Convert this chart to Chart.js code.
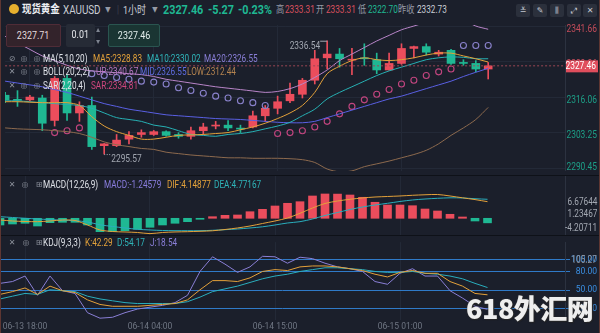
<!DOCTYPE html>
<html>
<head>
<meta charset="utf-8">
<title>现货黄金 XAUUSD 1小时</title>
<script src="https://cdn.jsdelivr.net/npm/chart.js@4.4.1/dist/chart.umd.min.js"></script>
<style>
  html, body { margin:0; padding:0; background:#1b1f2b; }
  #wrap { position:relative; width:600px; height:333px; overflow:hidden; background:#1b1f2b;
          font-family:Roboto,"Noto Sans CJK SC","Noto Sans",sans-serif; color:#d6d9e0; }
  #wrap:before, #wrap:after { content:""; position:absolute; top:0; bottom:0; width:1px; background:#5e3632; z-index:9; }
  #wrap:before { left:0; } #wrap:after { right:0; }
  .pane { position:absolute; left:0; width:600px; }
  .sep { position:absolute; left:0; width:600px; height:1px; background:#0e1118; }
  .t { position:absolute; white-space:nowrap; line-height:1; font-size:10px;
       transform:translateY(-50%) scaleX(0.82); transform-origin:left center; }
  .ic { position:absolute; line-height:1; transform:translate(-50%,-50%); font-family:"DejaVu Sans",sans-serif; font-size:8px; color:#8b909b; }
  .gr { color:#959aa6; }
  .box { position:absolute; top:24px; height:23px; border-radius:2px; box-sizing:border-box;
         font-size:10.5px; line-height:21px; text-align:center; }
  .box span { display:inline-block; transform:scaleX(0.85); }
  .tb { position:absolute; top:4px; width:14px; height:13px; border-radius:2px; background:#2b303c;
        color:#c3c7cf; font-family:"DejaVu Sans",sans-serif; font-size:8px; line-height:13px; text-align:center; }
  .ax { position:absolute; right:3px; font-size:10px; line-height:1; color:#a3a8b2;
        transform:translateY(-50%) scaleX(0.82); transform-origin:right center; }
  #wm { position:absolute; left:466px; top:294px; font-family:"Noto Sans CJK SC",sans-serif; font-weight:900;
        font-size:27px; line-height:28px; color:#eeeeee; letter-spacing:-0.5px;
        text-shadow:0 0 2px #333, 1px 1px 1px #222; z-index:8; }
</style>
</head>
<body>
<div id="wrap">
  <!-- panes -->
  <div class="pane" style="top:20px;height:156px"><canvas id="cMain" width="600" height="156"></canvas></div>
  <div class="pane" style="top:176px;height:59px"><canvas id="cMacd" width="600" height="59"></canvas></div>
  <div class="pane" style="top:235px;height:98px"><canvas id="cKdj" width="600" height="98"></canvas></div>
  <div class="sep" style="top:175px"></div>
  <div class="sep" style="top:235px"></div>

  <!-- header -->
  <div style="position:absolute;left:9px;top:4px;width:10px;height:10px;border-radius:50%;background:#e6b02e"></div>
  <span class="t" style="left:22px;top:10px;font-size:11.5px;font-weight:bold;color:#eceef2">现货黄金</span>
  <span class="t" style="left:63px;top:10px;font-size:12px;color:#c9cdd5">XAUUSD</span>
  <span class="t gr" style="left:105px;top:10px;font-size:7px">▼</span>
  <span class="t" style="left:117px;top:10px;color:#3d4250">|</span>
  <span class="t" style="left:123px;top:10px;font-size:11px;color:#c9cdd5">1小时</span>
  <span class="t gr" style="left:152px;top:10px;font-size:7px">▼</span>
  <span class="t" style="left:163px;top:10px;font-size:12px;font-weight:bold;color:#1fb893;transform:translateY(-50%) scaleX(0.9)">2327.46</span>
  <span class="t" style="left:208px;top:10px;font-size:12px;font-weight:bold;color:#1fb893;transform:translateY(-50%) scaleX(0.9)">-5.27</span>
  <span class="t" style="left:238px;top:10px;font-size:12px;font-weight:bold;color:#1fb893;transform:translateY(-50%) scaleX(0.9)">-0.23%</span>
  <span class="t gr" style="left:276px;top:10px">高</span>
  <span class="t" style="left:285px;top:10px;color:#d9505e">2333.31</span>
  <span class="t gr" style="left:316px;top:10px">开</span>
  <span class="t" style="left:326px;top:10px;color:#d9505e">2333.31</span>
  <span class="t gr" style="left:358px;top:10px">低</span>
  <span class="t" style="left:368px;top:10px;color:#1fb893">2322.70</span>
  <span class="t gr" style="left:398px;top:10px">昨收</span>
  <span class="t" style="left:417px;top:10px;color:#c9cdd5">2332.73</span>
  <div class="tb" style="left:516px">≚</div>
  <div class="tb" style="left:533px">✎</div>
  <div class="tb" style="left:550px">⫼</div>
  <div class="tb" style="left:567px">⤢</div>
  <div class="tb" style="left:583px">✕</div>

  <!-- order boxes -->
  <div class="box" style="left:6px;width:55px;background:#33232b;border:1px solid #4f2c37;color:#e2dadd"><span>2327.71</span></div>
  <div class="box" style="left:66px;width:29px;background:#262b36;color:#e6e8ec"><span>0.01</span></div>
  <span class="t" style="left:96px;top:30px;font-size:5px;color:#7e8490">▲</span>
  <span class="t" style="left:96px;top:41px;font-size:5px;color:#7e8490">▼</span>
  <div class="box" style="left:108px;width:52px;background:#1a3533;border:1px solid #2a5550;color:#e0ecea"><span>2327.46</span></div>

  <!-- main legend -->
  <span class="ic" style="left:12px;top:58.5px">⊘</span><span class="ic" style="left:24px;top:58.5px">◎</span><span class="ic" style="left:37px;top:58.5px">◎</span>
  <span class="t" style="left:43px;top:58.5px;color:#dfe2e8">MA(5,10,20)</span>
  <span class="t" style="left:93px;top:58.5px;color:#e3a13a">MA5:2328.83</span>
  <span class="t" style="left:147px;top:58.5px;color:#2fb4b9">MA10:2330.02</span>
  <span class="t" style="left:204px;top:58.5px;color:#8a7fd8">MA20:2326.55</span>

  <span class="ic" style="left:12px;top:72px">✕</span><span class="ic" style="left:24px;top:72px">◎</span><span class="ic" style="left:37px;top:72px">◎</span>
  <span class="t" style="left:43px;top:72px;color:#dfe2e8">BOLL(20,2,2)</span>
  <span class="t" style="left:96px;top:72px;color:#b878c4">UP:2340.67</span>
  <span class="t" style="left:140px;top:72px;color:#5f6ce0">MID:2326.55</span>
  <span class="t" style="left:187px;top:72px;color:#b4834f">LOW:2312.44</span>

  <span class="ic" style="left:12px;top:85.5px">✕</span><span class="ic" style="left:24px;top:85.5px">◎</span><span class="ic" style="left:37px;top:85.5px">◎</span>
  <span class="t" style="left:43px;top:85.5px;color:#dfe2e8">SAR(2,20,4)</span>
  <span class="t" style="left:91px;top:85.5px;color:#d0467e">SAR:2334.81</span>

  <!-- MACD legend -->
  <span class="ic" style="left:12px;top:185px">✕</span><span class="ic" style="left:25px;top:185px">◎</span><span class="ic" style="left:39px;top:185px">⊞</span>
  <span class="t" style="left:43px;top:185px;color:#dfe2e8">MACD(12,26,9)</span>
  <span class="t" style="left:104px;top:185px;color:#8a7ee0">MACD:-1.24579</span>
  <span class="t" style="left:167px;top:185px;color:#e3a13a">DIF:4.14877</span>
  <span class="t" style="left:214px;top:185px;color:#2fb4b9">DEA:4.77167</span>
  <span class="ax" style="top:201.7px">6.67644</span>
  <span class="ax" style="top:214.3px">1.23467</span>
  <span class="ax" style="top:228.3px">-4.20711</span>

  <!-- KDJ legend -->
  <span class="ic" style="left:12px;top:243px">✕</span><span class="ic" style="left:26px;top:243px">◎</span><span class="ic" style="left:39px;top:243px">⊞</span>
  <span class="t" style="left:43px;top:243px;color:#dfe2e8">KDJ(9,3,3)</span>
  <span class="t" style="left:85px;top:243px;color:#e3a13a">K:42.29</span>
  <span class="t" style="left:117px;top:243px;color:#2fb4b9">D:54.17</span>
  <span class="t" style="left:150px;top:243px;color:#8a7fd8">J:18.54</span>
  <span class="ax" style="top:259.5px;color:#8e939d">105.27</span>

  <div id="wm">618外汇网</div>
</div>

<script>
// ---- data (1h candles, 06-13 16:00 -> 06-15 08:00) ----
const timeIdx = [2, 12, 22, 32];
const timeLabels = ["06-13 18:00", "06-14 04:00", "06-14 15:00", "06-15 01:00"];

const opens  = [2316.84,2315.3,2315.16,2315.83,2307.72,2322.92,2310.43,2313.13,2298.6,2298.6,2300.96,2302.65,2302.65,2303.67,2302.65,2301.98,2304.01,2305.7,2306.03,2304.8,2305.36,2309.41,2312.11,2314.82,2317.18,2322.25,2330.36,2331.71,2329.5,2330.2,2329.68,2325.97,2328.33,2333.74,2334.41,2331.71,2333.06,2328.5,2328.33,2326.3];
const highs  = [2317.86,2318.5,2316.84,2316.84,2323.6,2324.28,2314.48,2316.17,2299.4,2302.65,2303.67,2304.34,2304.1,2304.0,2303.3,2305.36,2306.71,2307.38,2307.72,2306.03,2311.1,2313.13,2316.51,2321.24,2322.92,2333.06,2336.54,2333.74,2333.74,2335.43,2332.05,2332.05,2335.43,2334.6,2335.43,2333.06,2333.4,2329.68,2329.34,2328.67];
const lows   = [2314.14,2312.8,2314.82,2304.01,2305.7,2307.72,2307.38,2297.25,2295.57,2298.26,2299.28,2301.64,2302.3,2302.0,2301.3,2300.96,2302.65,2304.68,2304.01,2303.33,2305.0,2307.38,2310.09,2314.14,2315.83,2320.9,2326.3,2326.98,2324.28,2327.66,2324.61,2325.9,2327.99,2330.36,2331.37,2331.0,2327.99,2327.66,2325.29,2322.7];
const closes = [2315.16,2315.0,2316.17,2306.71,2322.92,2310.43,2313.13,2298.26,2299.28,2300.62,2302.32,2303.33,2303.67,2302.32,2301.98,2304.01,2305.36,2306.03,2305.02,2304.6,2309.41,2312.11,2314.48,2317.18,2322.25,2330.02,2331.71,2330.02,2329.68,2330.0,2325.97,2328.33,2333.74,2334.41,2332.38,2332.38,2328.33,2328.33,2326.3,2327.46];
const lastPrice = 2327.46;

const ma5  = [2314.49,2314.49,2314.32,2314.15,2314.15,2314.15,2313.14,2309.08,2305.71,2303.68,2302.33,2300.98,2300.98,2301.65,2302.33,2302.5,2302.67,2303.0,2303.34,2304.36,2305.37,2306.72,2308.41,2310.43,2313.14,2317.86,2324.62,2327.32,2329.35,2330.36,2329.68,2329.35,2329.68,2330.36,2331.37,2332.05,2332.05,2331.04,2330.02,2328.83];
const ma10 = [2314.82,2314.82,2314.48,2314.15,2313.81,2313.47,2313.14,2312.11,2310.43,2308.75,2308.07,2307.39,2306.04,2305.37,2304.02,2302.67,2302.33,2301.99,2302.67,2303.0,2303.68,2304.69,2305.7,2307.06,2309.42,2311.79,2315.5,2317.86,2319.89,2321.92,2323.94,2325.63,2326.98,2328.33,2329.68,2330.36,2330.7,2330.53,2330.02,2330.02];
const ma20 = [2321.92,2321.24,2320.57,2319.89,2318.88,2317.86,2316.51,2315.16,2313.81,2312.8,2311.79,2311.11,2310.43,2309.76,2309.42,2309.08,2308.75,2308.41,2308.24,2308.07,2307.73,2307.39,2307.06,2306.89,2306.89,2307.39,2308.75,2310.1,2311.45,2312.8,2314.15,2315.5,2316.51,2317.86,2319.22,2320.57,2321.92,2323.61,2325.13,2326.55];
const bollUp  = [2338.13,2335.76,2333.4,2331.04,2329.35,2327.66,2326.31,2325.63,2325.29,2324.96,2324.62,2324.28,2323.61,2322.59,2321.92,2321.24,2320.57,2319.89,2319.38,2318.88,2318.37,2317.86,2318.2,2319.22,2320.9,2323.27,2325.97,2329.35,2331.71,2334.07,2336.44,2338.47,2340.49,2341.84,2343.19,2344.21,2344.54,2343.87,2341.84,2340.67];
const bollLow = [2305.03,2304.69,2304.52,2304.36,2304.02,2303.68,2303.0,2301.65,2299.97,2298.95,2298.28,2297.6,2297.26,2296.25,2295.74,2295.24,2294.9,2294.56,2294.22,2294.22,2294.05,2294.05,2294.05,2293.89,2293.55,2292.54,2290.17,2289.16,2289.5,2291.02,2292.03,2293.04,2294.22,2295.41,2296.93,2299.29,2302.33,2305.03,2308.07,2312.44];
const n = null;
const sarBelow = [n,n,n,n,2303.34,2304.02,2305.03,n,n,n,n,n,n,n,n,n,n,n,n,n,n,n,2303.0,2303.34,2304.02,2305.37,2307.39,2310.1,2312.8,2315.16,2317.19,2318.88,2320.9,2322.25,2323.94,2325.29,2326.31,n,n,n];
const sarAbove = [n,n,n,n,n,n,n,2324.62,2323.94,2323.27,2322.59,2321.92,2321.58,2320.9,2319.55,2318.54,2317.53,2316.51,2315.84,2314.82,2314.15,2313.14,n,n,n,n,n,n,n,n,n,n,n,n,n,n,n,2334.8,2334.8,2334.81];
const priceTicks = [2341.66, 2328.86, 2316.06, 2303.25, 2290.45];

const macdHist = [-1.84,-1.57,-1.37,-2.12,-1.21,-1.1,-1.1,-1.84,-3.68,-3.68,-3.41,-3.02,-2.47,-1.84,-1.37,-0.93,-0.27,0.44,0.82,0.91,1.81,2.47,3.38,4.12,4.56,6.13,6.68,6.65,6.4,5.77,4.4,3.65,3.65,3.46,2.55,2.01,1.1,0.36,-0.74,-1.25];
const dif = [-0.47,-0.74,-0.88,-0.93,-0.74,-0.47,-0.6,-1.84,-3.21,-3.63,-3.76,-3.9,-4.21,-3.9,-3.76,-3.68,-3.57,-3.43,-3.08,-2.66,-2.12,-1.43,-0.74,0.08,1.37,2.83,4.07,4.75,5.22,5.58,5.85,5.99,6.13,6.32,6.46,6.54,6.13,5.63,5.14,4.56];
const dea = [0.44,0.22,0,-0.19,-0.36,-0.52,-0.66,-1.02,-1.79,-2.25,-2.66,-3.02,-3.21,-3.35,-3.41,-3.41,-3.41,-3.3,-3.13,-2.94,-2.66,-2.34,-1.84,-1.29,-0.93,-0.19,0.77,1.59,2.42,3.1,3.65,4.12,4.62,5.03,5.3,5.49,5.63,5.58,5.38,5.22];

const kLine = [43,47.5,53.5,43,56.5,49,46,34,26.5,23.5,23.5,23.5,25,26.5,28,34,50.5,65.5,65.5,64,70,80.5,83.5,82,88,89.5,89.5,88,85,82,76,71.5,79,82,77.5,77.5,64,56.5,44.5,42.29];
const dLine = [35.5,40,44.5,43,50.5,49,47.5,40,35.5,32.5,29.5,28,28,28,28,31,38.5,47.5,52,56.5,62.5,68.5,73,76,80.5,83.5,86.5,86.5,85,83.5,80.5,79,79,80.5,77.5,76,73,68.5,61,54.17];
const jLine = [61,64,73,41.5,73,49,44.5,13,4,5.5,13,19,22,25,29.5,41.5,80.5,104.5,92.5,79,88,105.27,104.5,94,103.8,101.5,94,88,85,80.5,64,59.5,77.5,85,73,73,49,37,23.5,18.54];
const kdjTicks = [100, 80, 50, 20];

// ---- style ----
const RED = "#eb4d5c", GREEN = "#1fb893";
const GRID = "#232937", AXISLINE = "#2c3240";
Chart.defaults.font.family = 'Roboto, "Noto Sans", sans-serif';

const pts = arr => arr.map((v, i) => ({ x: i, y: v }));
const candleCol = closes.map((c, i) => c >= opens[i] ? RED : GREEN);

function xAxis(withLabels) {
  return {
    type: "linear", min: 0, max: 45.2, offset: false, bounds: "ticks",
    afterBuildTicks: s => { s.ticks = timeIdx.map(v => ({ value: v })); },
    ticks: withLabels
      ? { display: true, color: "#6f7683", font: { size: 8.5 }, padding: 2, maxRotation: 0, autoSkip: false,
          callback: v => timeLabels[timeIdx.indexOf(v)] }
      : { display: false },
    grid: { color: GRID, drawTicks: false, offset: false },
    border: { display: false },
    afterFit: s => { s.height = withLabels ? 13 : 0; }
  };
}
const baseOpts = {
  responsive: false, animation: false, events: [],
  layout: { padding: { right: 3 } },
  plugins: { legend: { display: false }, tooltip: { enabled: false } }
};

// condensed text helper for canvas labels
function squeezeText(ctx, txt, x, y, sx) {
  ctx.save(); ctx.translate(x, y); ctx.scale(sx, 1); ctx.fillText(txt, 0, 0); ctx.restore();
}

// right-axis labels + last price tag + high/low marks on the price pane
const pricePane = {
  id: "pricePane",
  afterDraw(chart) {
    const { ctx, scales: { x, y } } = chart;
    ctx.save();
    ctx.font = "10px Roboto";
    ctx.textAlign = "right"; ctx.textBaseline = "middle";
    priceTicks.forEach(v => {
      let py = y.getPixelForValue(v) + 3;
      py = Math.min(Math.max(py, 9.5), 147.5);
      ctx.fillStyle = v > lastPrice ? "#c44c5a" : "#1d9f87";
      squeezeText(ctx, v.toFixed(2), 597, py, 0.84);
    });
    const ly = y.getPixelForValue(lastPrice);
    ctx.fillStyle = "#e04e5d";
    ctx.fillRect(566, ly - 5.5, 32, 12);
    ctx.fillStyle = "#ffffff";
    squeezeText(ctx, lastPrice.toFixed(2), 596, ly + 0.5, 0.84);

    const hi = highs.indexOf(Math.max(...highs));
    const lo = lows.indexOf(Math.min(...lows));
    ctx.fillStyle = "#a1a6b0"; ctx.strokeStyle = "#a1a6b0"; ctx.lineWidth = 1;
    ctx.textBaseline = "top";
    const hx = x.getPixelForValue(hi), hy = y.getPixelForValue(highs[hi]);
    ctx.beginPath(); ctx.moveTo(hx - 7, hy + 0.5); ctx.lineTo(hx, hy + 0.5); ctx.stroke();
    squeezeText(ctx, highs[hi].toFixed(2), hx - 7, hy + 0.5, 0.84);
    const lx = x.getPixelForValue(lo), lyy = y.getPixelForValue(lows[lo]);
    ctx.setLineDash([1, 1.5]);
    ctx.beginPath(); ctx.moveTo(lx, lyy + 0.5); ctx.lineTo(lx + 6, lyy + 0.5); ctx.stroke();
    ctx.setLineDash([]);
    ctx.textAlign = "left";
    squeezeText(ctx, lows[lo].toFixed(2), lx + 7, lyy, 0.84);
    ctx.restore();
  }
};

const line = (data, color, extra) => Object.assign({
  type: "line", data: pts(data), borderColor: color, borderWidth: 1,
  pointRadius: 0, tension: 0.3, order: 1
}, extra || {});

new Chart(document.getElementById("cMain"), {
  type: "bar",
  data: {
    datasets: [
      { type: "bar", data: lows.map((l, i) => ({ x: i, y: [l, highs[i]] })),
        backgroundColor: candleCol, barThickness: 1, grouped: false, minBarLength: 1, order: 5 },
      { type: "bar", data: opens.map((o, i) => ({ x: i, y: [o, closes[i]] })),
        backgroundColor: candleCol, barThickness: 8, grouped: false, minBarLength: 1, order: 4 },
      line(ma5, "#e3a13a"),
      line(ma10, "#27b1b4"),
      line(ma20, "#5a60e4"),
      line(bollUp, "#b985c9"),
      line(bollLow, "#8d6a4e"),
      { type: "line", data: pts(sarBelow), showLine: false, pointRadius: 3, pointBorderWidth: 1.1,
        pointBorderColor: "#c2457f", pointBackgroundColor: "rgba(0,0,0,0)", order: 2 },
      { type: "line", data: pts(sarAbove), showLine: false, pointRadius: 3, pointBorderWidth: 1.1,
        pointBorderColor: "#8a82cc", pointBackgroundColor: "rgba(0,0,0,0)", order: 2 },
      { type: "line", data: [{ x: 0, y: lastPrice }, { x: 45.2, y: lastPrice }], borderColor: "#9c4654",
        borderWidth: 1, borderDash: [2, 2], pointRadius: 0, order: 0 }
    ]
  },
  options: Object.assign({}, baseOpts, {
    scales: {
      x: xAxis(false),
      y: { position: "right", min: 2289.49, max: 2342.18,
           afterBuildTicks: s => { s.ticks = priceTicks.map(v => ({ value: v })); },
           ticks: { display: false }, grid: { color: GRID, drawTicks: false },
           border: { color: AXISLINE }, afterFit: s => { s.width = 32; } }
    }
  }),
  plugins: [pricePane]
});

new Chart(document.getElementById("cMacd"), {
  type: "bar",
  data: {
    datasets: [
      { type: "bar", data: pts(macdHist), backgroundColor: macdHist.map(v => v >= 0 ? RED : GREEN),
        barThickness: 8, minBarLength: 1, order: 3 },
      line(dif, "#e3a13a"),
      line(dea, "#2aaebd")
    ]
  },
  options: Object.assign({}, baseOpts, {
    scales: {
      x: xAxis(false),
      y: { position: "right", min: -4.59, max: 11.62, ticks: { display: false },
           grid: { display: false }, border: { color: AXISLINE }, afterFit: s => { s.width = 32; } }
    }
  })
});

new Chart(document.getElementById("cKdj"), {
  type: "line",
  data: {
    datasets: [
      line(kLine, "#e3a13a", { tension: 0 }),
      line(dLine, "#2aaebd", { tension: 0 }),
      line(jLine, "#8a7fd6", { tension: 0 })
    ]
  },
  options: Object.assign({}, baseOpts, {
    scales: {
      x: xAxis(true),
      y: { position: "right", min: 1.05, max: 128.55,
           afterBuildTicks: s => { s.ticks = kdjTicks.map(v => ({ value: v })); },
           ticks: { color: "#3a8ee2", font: { size: 8.5 }, crossAlign: "far", padding: 2,
                    callback: v => Number(v).toFixed(2) },
           grid: { color: "#2f7ac8", drawTicks: true, tickLength: 5, tickColor: "#2f7ac8" },
           border: { color: AXISLINE }, afterFit: s => { s.width = 32; } }
    }
  })
});
</script>
</body>
</html>
